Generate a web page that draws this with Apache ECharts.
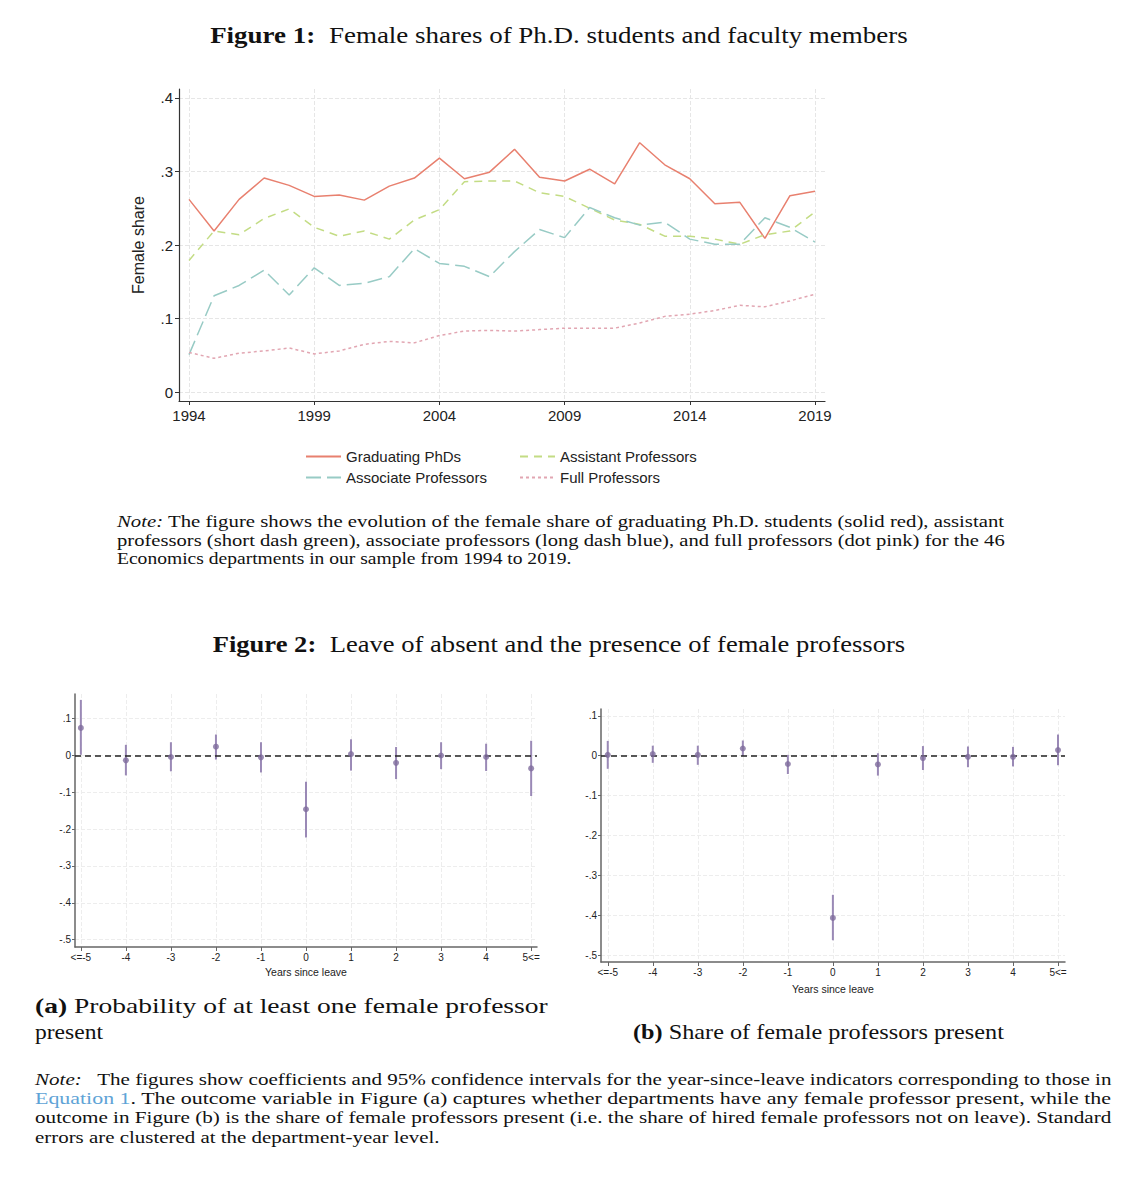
<!DOCTYPE html>
<html><head><meta charset="utf-8">
<script src="https://cdn.jsdelivr.net/npm/echarts@6/dist/echarts.min.js"></script>
<style>html,body{margin:0;padding:0;background:#fff}#c{width:1143px;height:1200px}</style>
</head><body><div id="c"></div>
<script>
// ---------- Figure 1 data ----------
const years = [1994,1995,1996,1997,1998,1999,2000,2001,2002,2003,2004,2005,2006,2007,2008,2009,2010,2011,2012,2013,2014,2015,2016,2017,2018,2019];
const gradPhDs      = [0.262,0.219,0.262,0.291,0.281,0.266,0.268,0.261,0.280,0.291,0.318,0.290,0.299,0.330,0.292,0.287,0.303,0.283,0.339,0.309,0.290,0.256,0.258,0.209,0.267,0.273];
const assistantProf = [0.179,0.219,0.214,0.236,0.249,0.224,0.212,0.219,0.208,0.234,0.248,0.286,0.287,0.287,0.271,0.266,0.250,0.234,0.228,0.212,0.212,0.208,0.201,0.214,0.219,0.245];
const associateProf = [0.051,0.131,0.145,0.166,0.132,0.169,0.145,0.148,0.157,0.195,0.175,0.171,0.157,0.191,0.221,0.210,0.251,0.237,0.227,0.231,0.208,0.201,0.201,0.237,0.224,0.204];
const fullProf      = [0.054,0.046,0.053,0.056,0.060,0.052,0.056,0.065,0.069,0.067,0.077,0.083,0.084,0.083,0.085,0.087,0.087,0.087,0.094,0.103,0.106,0.111,0.118,0.116,0.124,0.133];
const fig1XTicks = [1994,1999,2004,2009,2014,2019];
const fig1YTicks = [0,0.1,0.2,0.3,0.4];

// ---------- Figure 2 data ----------
const leaveLabels = ['<=-5','-4','-3','-2','-1','0','1','2','3','4','5<='];
const leavePos    = [-5,-4,-3,-2,-1,0,1,2,3,4,5];
const coefA = [0.075,-0.013,-0.004,0.024,-0.005,-0.146,0.004,-0.020,0.000,-0.004,-0.035];
const lowA  = [0.002,-0.054,-0.043,-0.011,-0.046,-0.223,-0.041,-0.064,-0.037,-0.042,-0.110];
const highA = [0.151,0.029,0.036,0.057,0.036,-0.071,0.044,0.023,0.036,0.032,0.040];
const coefB = [0.002,0.004,0.002,0.018,-0.021,-0.407,-0.022,-0.006,-0.003,-0.003,0.014];
const lowB  = [-0.033,-0.018,-0.023,-0.001,-0.046,-0.463,-0.050,-0.036,-0.029,-0.027,-0.024];
const highB = [0.037,0.025,0.025,0.038,0.002,-0.349,0.006,0.024,0.023,0.022,0.053];
const fig2YTicks = [0.1,0,-0.1,-0.2,-0.3,-0.4,-0.5];

// ---------- helpers ----------
const SANS = '"Liberation Sans", Arial, sans-serif';
const SERIF = '"Liberation Serif", "Times New Roman", serif';
const mctx = document.createElement('canvas').getContext('2d');
function textLine(segs, x, y, size, target, align) {
  let w = 0;
  segs.forEach(s => {
    mctx.font = (s.r === 'i' ? 'italic ' : '') + (s.r === 'b' ? 'bold ' : '') + size + 'px ' + SERIF;
    w += mctx.measureText(s.t).width;
  });
  const sx = target ? target / w : 1;
  return {
    type: 'text', x: x, y: y, scaleX: sx, silent: true,
    style: {
      text: segs.map(s => s.r ? '{' + s.r + '|' + s.t + '}' : s.t).join(''),
      fontSize: size, fontFamily: SERIF, fill: '#111',
      align: align || 'left', verticalAlign: 'middle',
      rich: {
        b: {fontWeight: 'bold', fontSize: size, fontFamily: SERIF, fill: '#111'},
        i: {fontStyle: 'italic', fontSize: size, fontFamily: SERIF, fill: '#111'},
        l: {fontSize: size, fontFamily: SERIF, fill: '#5ea3d6', color: '#5ea3d6'}
      }
    }
  };
}
function fmt1(v) {
  if (Math.abs(v) < 1e-9) return '0';
  return v.toFixed(1).replace('0.', '.');
}
const posToLabel = {};
leavePos.forEach((p, i) => posToLabel[p] = leaveLabels[i]);

const gridLine = {show: true, lineStyle: {type: 'dashed', color: '#e6e6e6', width: 1}};
const gridLine2 = {show: true, lineStyle: {type: 'dashed', color: '#ededed', width: 1}};

function panelAxes(gi, xmin, xmax, ymin, ymax) {
  return {
    x: {
      type: 'value', gridIndex: gi, min: xmin, max: xmax,
      name: 'Years since leave', nameLocation: 'middle', nameGap: 19,
      nameTextStyle: {fontSize: 10.5, fontFamily: SANS, color: '#222'},
      axisLine: {onZero: false, lineStyle: {color: '#666', width: 1.5}},
      axisTick: {customValues: leavePos, length: 4, lineStyle: {color: '#666'}},
      axisLabel: {customValues: leavePos, formatter: v => posToLabel[Math.round(v)], fontSize: 10, fontFamily: SANS, color: '#222', margin: 5},
      splitLine: gridLine2
    },
    y: {
      type: 'value', gridIndex: gi, min: ymin, max: ymax,
      axisLine: {show: true, onZero: false, lineStyle: {color: '#666', width: 1.5}},
      axisTick: {show: true, customValues: fig2YTicks, length: 3, lineStyle: {color: '#666'}},
      axisLabel: {customValues: fig2YTicks, formatter: fmt1, fontSize: 10, fontFamily: SANS, color: '#222', margin: 4},
      splitLine: gridLine2
    }
  };
}
const pa = panelAxes(1, -5.13, 5.13, -0.52, 0.167);
const pb = panelAxes(2, -5.15, 5.155, -0.5175, 0.117);
pb.x.nameGap = 21;

function ciSeries(gi, lo, hi) {
  return {
    type: 'custom', xAxisIndex: gi, yAxisIndex: gi, silent: true,
    data: leavePos.map((x, i) => [x, lo[i], hi[i]]),
    encode: {x: 0, y: [1, 2]},
    renderItem: (params, api) => {
      const p1 = api.coord([api.value(0), api.value(1)]);
      const p2 = api.coord([api.value(0), api.value(2)]);
      return {type: 'line', shape: {x1: p1[0], y1: p1[1], x2: p2[0], y2: p2[1]},
              style: {stroke: '#9a89b6', lineWidth: 2}};
    }
  };
}
function ptSeries(gi, coef) {
  return {
    type: 'scatter', xAxisIndex: gi, yAxisIndex: gi, silent: true,
    data: leavePos.map((x, i) => [x, coef[i]]),
    symbolSize: 6, itemStyle: {color: '#7f6d9e'}, z: 5,
    markLine: {silent: true, symbol: 'none', label: {show: false},
      lineStyle: {type: [6, 4], color: '#222', width: 1.5},
      data: [{yAxis: 0}]}
  };
}
function lineSeries(name, arr, color, type) {
  return {
    name: name, type: 'line', xAxisIndex: 0, yAxisIndex: 0, symbol: 'none', silent: true,
    data: years.map((y, i) => [y, arr[i]]),
    lineStyle: {color: color, width: 1.5, type: type}, itemStyle: {color: color}
  };
}
const legendCommon = {orient: 'vertical', itemGap: 6, itemWidth: 35, itemHeight: 14, top: 444,
  itemStyle: {opacity: 0},
  textStyle: {fontSize: 15, fontFamily: SANS, color: '#222'}, selectedMode: false};

const chart = echarts.init(document.getElementById('c'), null, {renderer: 'svg', width: 1143, height: 1200});
const option = {
  animation: false,
  backgroundColor: '#fff',
  grid: [
    {left: 179, top: 89, width: 646, height: 312},
    {left: 75, top: 694, width: 462, height: 253},
    {left: 601, top: 709, width: 464, height: 253}
  ],
  legend: [
    Object.assign({left: 300, data: ['Graduating PhDs', 'Associate Professors']}, legendCommon),
    Object.assign({left: 514, data: ['Assistant Professors', 'Full Professors']}, legendCommon)
  ],
  xAxis: [
    {type: 'value', gridIndex: 0, min: 1993.6, max: 2019.4,
     axisLine: {onZero: false, lineStyle: {color: '#333', width: 1.2}},
     axisTick: {customValues: fig1XTicks, length: 4, lineStyle: {color: '#333'}},
     axisLabel: {customValues: fig1XTicks, formatter: v => String(Math.round(v)), fontSize: 15, fontFamily: SANS, color: '#222', margin: 7},
     splitLine: gridLine},
    pa.x, pb.x
  ],
  yAxis: [
    {type: 'value', gridIndex: 0, min: -0.012, max: 0.412,
     name: 'Female share', nameLocation: 'middle', nameGap: 33,
     nameTextStyle: {fontSize: 16, fontFamily: SANS, color: '#222'},
     axisLine: {show: true, onZero: false, lineStyle: {color: '#333', width: 1.2}},
     axisTick: {show: true, customValues: fig1YTicks, length: 4, lineStyle: {color: '#333'}},
     axisLabel: {customValues: fig1YTicks, formatter: fmt1, fontSize: 15, fontFamily: SANS, color: '#222', margin: 6},
     splitLine: gridLine},
    pa.y, pb.y
  ],
  series: [
    lineSeries('Graduating PhDs', gradPhDs, '#e8806f', 'solid'),
    lineSeries('Assistant Professors', assistantProf, '#c3dc84', [8, 6]),
    lineSeries('Associate Professors', associateProf, '#98cbc5', [15, 6]),
    lineSeries('Full Professors', fullProf, '#e2a6b2', [3, 3]),
    ciSeries(1, lowA, highA), ptSeries(1, coefA),
    ciSeries(2, lowB, highB), ptSeries(2, coefB)
  ],
  graphic: [
    textLine([{t: 'Figure 1:', r: 'b'}, {t: '  Female shares of Ph.D. students and faculty members'}], 559, 35, 23, 698, 'center'),
    textLine([{t: 'Note:', r: 'i'}, {t: ' The figure shows the evolution of the female share of graduating Ph.D. students (solid red), assistant'}], 117, 521, 16.5, 888),
    textLine([{t: 'professors (short dash green), associate professors (long dash blue), and full professors (dot pink) for the 46'}], 117, 540, 16.5, 888),
    textLine([{t: 'Economics departments in our sample from 1994 to 2019.'}], 117, 559, 16.5, 455),
    textLine([{t: 'Figure 2:', r: 'b'}, {t: '  Leave of absent and the presence of female professors'}], 559, 644, 23, 693, 'center'),
    textLine([{t: '(a)', r: 'b'}, {t: ' Probability of at least one female professor'}], 35, 1006, 21, 513),
    textLine([{t: 'present'}], 35, 1032, 21, 68),
    textLine([{t: '(b)', r: 'b'}, {t: ' Share of female professors present'}], 633, 1032, 21, 371),
    textLine([{t: 'Note:', r: 'i'}, {t: '   The figures show coefficients and 95% confidence intervals for the year-since-leave indicators corresponding to those in'}], 35, 1079, 16.5, 1077),
    textLine([{t: 'Equation 1', r: 'l'}, {t: '. The outcome variable in Figure (a) captures whether departments have any female professor present, while the'}], 35, 1098, 16.5, 1077),
    textLine([{t: 'outcome in Figure (b) is the share of female professors present (i.e. the share of hired female professors not on leave). Standard'}], 35, 1117, 16.5, 1077),
    textLine([{t: 'errors are clustered at the department-year level.'}], 35, 1137, 16.5, 405)
  ]
};
chart.setOption(option);
</script>
</body></html>
